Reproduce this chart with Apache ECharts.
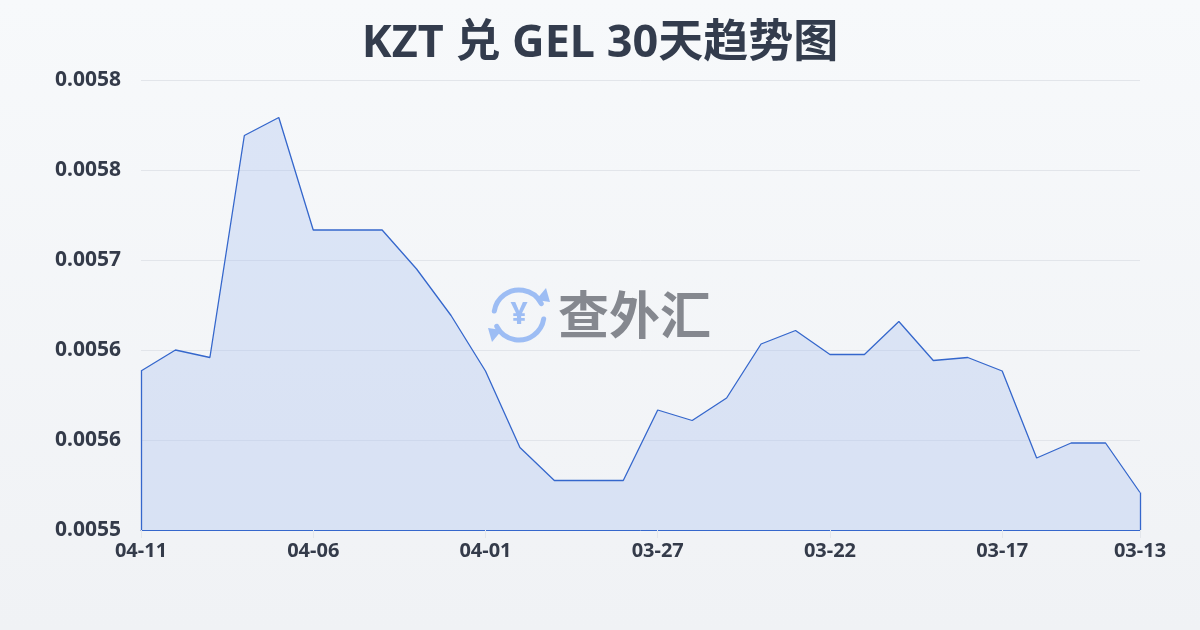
<!DOCTYPE html>
<html>
<head>
<meta charset="utf-8">
<script src="https://cdn.jsdelivr.net/npm/echarts@6/dist/echarts.min.js"></script>
<style>html,body{margin:0;padding:0;}#c{width:1200px;height:630px;}</style>
</head>
<body>
<div id="c"></div>
<script>
var titleText = 'KZT 兑 GEL 30天趋势图';
var dates = ['04-11','04-10','04-09','04-08','04-07','04-06','04-05','04-04','04-03','04-02',
             '04-01','03-31','03-30','03-29','03-28','03-27','03-26','03-25','03-24','03-23',
             '03-22','03-21','03-20','03-19','03-18','03-17','03-16','03-15','03-14','03-13'];
var rates = [0.005626,0.005640,0.005635,0.005783,0.005795,0.005720,0.005720,0.005720,0.005694,0.005663,
             0.005626,0.005575,0.005553,0.005553,0.005553,0.005600,0.005593,0.005608,0.005644,0.005653,
             0.005637,0.005637,0.005659,0.005633,0.005635,0.005626,0.005568,0.005578,0.005578,0.005545];
var yMin = 0.00552, yMax = 0.00582, yStep = 0.00006;
var watermark = '查外汇';

var font = '"Noto Sans", "Noto Sans CJK SC", sans-serif';
var chart = echarts.init(document.getElementById('c'), null, {renderer:'canvas'});
var lastIdx = dates.length - 1;
function showLabel(i){ return i % 5 === 0 || i === lastIdx; }
var lineColor = '#3567cc';

chart.setOption({
  backgroundColor: new echarts.graphic.LinearGradient(0,0,0,1,[{offset:0,color:'#f7f9fb'},{offset:1,color:'#f0f2f5'}]),
  animation: false,
  title: {
    text: titleText, left: 'center', top: 17,
    textStyle: {fontFamily: font, fontSize: 45, fontWeight: 'bold', color: '#333c4d'}
  },
  grid: {left: 141, right: 60, top: 80, bottom: 100},
  xAxis: {
    type: 'category', data: dates, boundaryGap: false,
    axisLine: {show: true, lineStyle: {color: lineColor, width: 1}},
    axisTick: {show: true, interval: function(i){return showLabel(i);}, length: 8, lineStyle: {color: '#e3e6eb'}},
    axisLabel: {interval: function(i){return showLabel(i);}, margin: 11, fontFamily: font, fontSize: 20, fontWeight: 'bold', color: '#343b4a'},
    splitLine: {show: false}
  },
  yAxis: {
    type: 'value', min: yMin, max: yMax, interval: yStep,
    axisLine: {show: false}, axisTick: {show: false},
    axisLabel: {formatter: function(v){return v.toFixed(4);}, margin: 20, fontFamily: font, fontSize: 21, fontWeight: 'bold', color: '#343b4a'},
    splitLine: {lineStyle: {color: '#e2e5ea', width: 1}}
  },
  graphic: [
    {type: 'arc', shape: {cx: 519, cy: 315, r: 25, startAngle: Math.PI*1.05, endAngle: Math.PI*1.85}, style: {stroke: '#9dbdf4', lineWidth: 5, fill: null, lineCap: 'round'}, z: 1},
    {type: 'arc', shape: {cx: 519, cy: 315, r: 25, startAngle: Math.PI*0.05, endAngle: Math.PI*0.85}, style: {stroke: '#9dbdf4', lineWidth: 5, fill: null, lineCap: 'round'}, z: 1},
    {type: 'polygon', shape: {points: [[536,300],[550,302],[546,288]]}, style: {fill: '#9dbdf4'}, z: 1},
    {type: 'polygon', shape: {points: [[502,330],[488,328],[492,342]]}, style: {fill: '#9dbdf4'}, z: 1},
    {type: 'text', x: 519, y: 315, style: {text: '¥', fontFamily: font, fontSize: 30, fontWeight: 'bold', fill: '#9dbdf4', align: 'center', verticalAlign: 'middle'}, z: 1},
    {type: 'text', x: 558, y: 315, style: {text: watermark, fontFamily: '"Noto Sans CJK SC", sans-serif', fontSize: 51, fontWeight: 'bold', fill: '#85888f', align: 'left', verticalAlign: 'middle'}, z: 1}
  ],
  series: [{
    type: 'line', data: rates, symbol: 'none', smooth: false, z: 3,
    lineStyle: {color: lineColor, width: 1.3},
    areaStyle: {color: 'rgba(168,192,240,0.47)'},
    markLine: {
      silent: true, symbol: 'none', label: {show: false},
      lineStyle: {color: lineColor, width: 1.3, type: 'solid'},
      data: [
        [{coord: [0, yMin]}, {coord: [0, rates[0]]}],
        [{coord: [lastIdx, yMin]}, {coord: [lastIdx, rates[lastIdx]]}]
      ]
    }
  }]
});
</script>
</body>
</html>
